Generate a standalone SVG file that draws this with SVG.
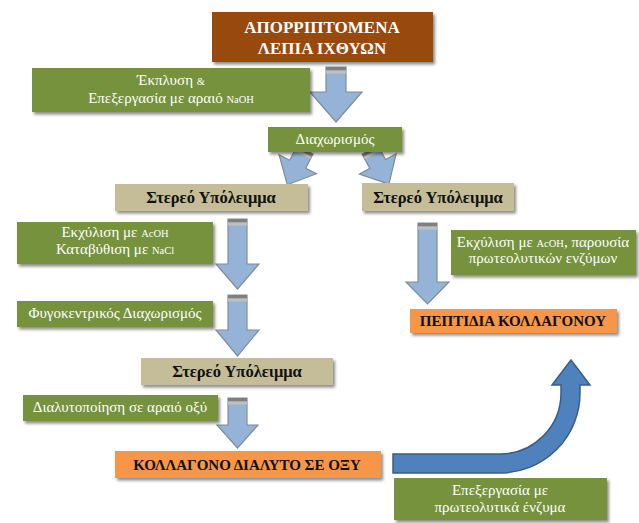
<svg xmlns="http://www.w3.org/2000/svg" width="639" height="523" viewBox="0 0 639 523">
<defs>
<filter id="sh" x="-10%" y="-20%" width="125%" height="160%">
<feDropShadow dx="2" dy="2.5" stdDeviation="1.6" flood-color="#000" flood-opacity="0.45"/>
</filter>
<style>
.green{fill:#76923C;filter:url(#sh)}
.tan{fill:#C4BD97;filter:url(#sh)}
.orange{fill:#F79646;filter:url(#sh)}
.brown{fill:#984807;filter:url(#sh)}
text{font-family:'Liberation Serif','DejaVu Serif',serif}
.gt{font-size:15px;fill:#ffffff;text-anchor:middle}
.sm{font-size:10.5px}
.bt{font-size:16.5px;font-weight:bold;fill:#111;text-anchor:middle}
.ot{font-size:15px;font-weight:bold;fill:#111;text-anchor:middle}
.tt{font-size:17px;font-weight:bold;fill:#ffffff;text-anchor:middle}
.arr{fill:#95B3D7;stroke:#7F8C9C;stroke-width:1.2;stroke-linejoin:miter}
.cap1{fill:#7F7F7F}
.cap2{fill:#BFBFBF}
.big{fill:#4F81BD;stroke:#385D8A;stroke-width:1.5}
</style>
</defs>
<rect width="639" height="523" fill="#ffffff"/>

<g id="connectors">
<g id="a1">
<path class="arr" d="M326,67 L346,67 L346,92 L362,92 L336,122 L310,92 L326,92 Z"/>
<rect class="cap1" x="326" y="67" width="20" height="3.5"/><rect class="cap2" x="326" y="70.5" width="20" height="3"/>
</g>
<g id="a2" transform="translate(305,150) rotate(27)">
<path class="arr" d="M-9,0 L9,0 L9,16 L21,16 L0,39 L-21,16 L-9,16 Z"/>
<rect class="cap1" x="-9" y="0" width="18" height="3"/><rect class="cap2" x="-9" y="3" width="18" height="2.5"/>
</g>
<g id="a3" transform="translate(370,150) rotate(-29)">
<path class="arr" d="M-9,0 L9,0 L9,16 L21,16 L0,39 L-21,16 L-9,16 Z"/>
<rect class="cap1" x="-9" y="0" width="18" height="3"/><rect class="cap2" x="-9" y="3" width="18" height="2.5"/>
</g>
<g id="a4">
<path class="arr" d="M228,219 L247,219 L247,264 L259,264 L237.5,289 L216,264 L228,264 Z"/>
<rect class="cap1" x="228" y="219" width="19" height="3.5"/><rect class="cap2" x="228" y="222.5" width="19" height="3"/>
</g>
<g id="a5">
<path class="arr" d="M228,295 L247,295 L247,330 L259,330 L237.5,356 L216,330 L228,330 Z"/>
<rect class="cap1" x="228" y="295" width="19" height="3.5"/><rect class="cap2" x="228" y="298.5" width="19" height="3"/>
</g>
<g id="a6">
<path class="arr" d="M228,398 L247,398 L247,425 L258,425 L237.5,448 L217,425 L228,425 Z"/>
<rect class="cap1" x="228" y="398" width="19" height="3.5"/><rect class="cap2" x="228" y="401.5" width="19" height="3"/>
</g>
<g id="a7">
<path class="arr" d="M418,223 L437,223 L437,282 L449,282 L427.5,304 L406,282 L418,282 Z"/>
<rect class="cap1" x="418" y="223" width="19" height="3.5"/><rect class="cap2" x="418" y="226.5" width="19" height="3"/>
</g>
<g id="a8">
<path class="big" d="M393,473 L500,473 A80,80 0 0 0 580,393 L580,385 L590,385 L571,360 L552,385 L561,385 L561,393 A61,61 0 0 1 500,454 L393,454 Z"/>
</g>
</g>

<g id="n-title">
<rect class="brown" x="212" y="12" width="221" height="50"/>
<text class="tt" x="322" y="33">ΑΠΟΡΡΙΠΤΟΜΕΝΑ</text>
<text class="tt" x="322" y="54">ΛΕΠΙΑ ΙΧΘΥΩΝ</text>
</g>

<g id="n-ekplysi">
<rect class="green" x="32" y="68" width="278" height="44"/>
<text class="gt" x="171" y="85">Έκπλυση <tspan class="sm">&amp;</tspan></text>
<text class="gt" x="171" y="103">Επεξεργασία με αραιό <tspan class="sm">NaOH</tspan></text>
</g>

<g id="n-diaxorismos">
<rect class="green" x="268" y="127" width="134" height="25"/>
<text class="gt" x="335" y="144">Διαχωρισμός</text>
</g>

<g id="n-stereo1">
<rect class="tan" x="115" y="184" width="193" height="27"/>
<text class="bt" x="211" y="203">Στερεό Υπόλειμμα</text>
</g>

<g id="n-stereo2">
<rect class="tan" x="362" y="183" width="152" height="28"/>
<text class="bt" x="438" y="203">Στερεό Υπόλειμμα</text>
</g>

<g id="n-ekxylisi">
<rect class="green" x="17" y="222" width="196" height="42"/>
<text class="gt" x="115" y="237">Εκχύλιση με <tspan class="sm">AcOH</tspan></text>
<text class="gt" x="115" y="254">Καταβύθιση με <tspan class="sm">NaCl</tspan></text>
</g>

<g id="n-fygokentrikos">
<rect class="green" x="17" y="301" width="196" height="26"/>
<text class="gt" x="115" y="318">Φυγοκεντρικός Διαχωρισμός</text>
</g>

<g id="n-stereo3">
<rect class="tan" x="141" y="358" width="192" height="27"/>
<text class="bt" x="237" y="377">Στερεό Υπόλειμμα</text>
</g>

<g id="n-dialytopoiisi">
<rect class="green" x="23" y="395" width="195" height="26"/>
<text class="gt" x="120" y="412">Διαλυτοποίηση σε αραιό οξύ</text>
</g>

<g id="n-kollagono">
<rect class="orange" x="115" y="451" width="266" height="27"/>
<text class="ot" x="247" y="470">ΚΟΛΛΑΓΟΝΟ ΔΙΑΛΥΤΟ ΣΕ ΟΞΥ</text>
</g>

<g id="n-ekxylisi2">
<rect class="green" x="451" y="230" width="185" height="45"/>
<text class="gt" x="543" y="247">Εκχύλιση με <tspan class="sm">AcOH</tspan>, παρουσία</text>
<text class="gt" x="543" y="263">πρωτεολυτικών ενζύμων</text>
</g>

<g id="n-peptidia">
<rect class="orange" x="410" y="309" width="207" height="24"/>
<text class="ot" x="513" y="326">ΠΕΠΤΙΔΙΑ ΚΟΛΛΑΓΟΝΟΥ</text>
</g>

<g id="n-epexergasia">
<rect class="green" x="394" y="478" width="213" height="42"/>
<text class="gt" x="500" y="495">Επεξεργασία με</text>
<text class="gt" x="500" y="512">πρωτεολυτικά ένζυμα</text>
</g>
</svg>
